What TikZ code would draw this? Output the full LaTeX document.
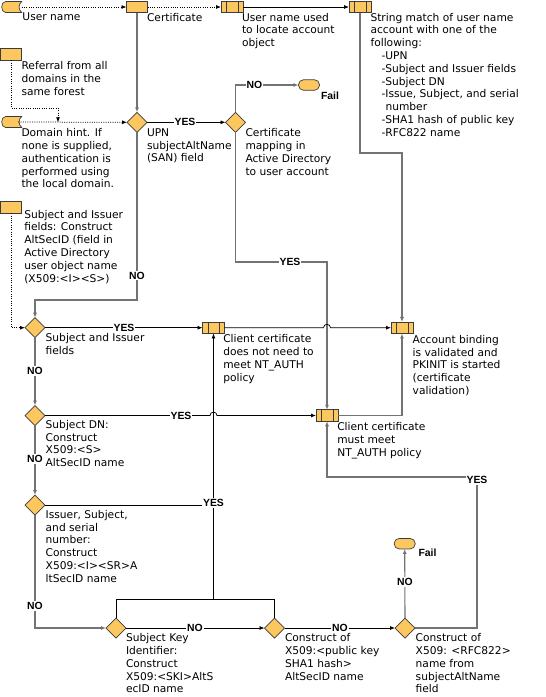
\documentclass[tikz,border=0pt]{standalone}
\usepackage{fontspec}
\setmainfont{DejaVu Sans}
\newfontfamily\lblfont{Liberation Sans}
\usetikzlibrary{shapes.geometric,arrows.meta}
\definecolor{shp}{RGB}{253,199,96}
\definecolor{shpline}{RGB}{60,60,60}
\definecolor{gline}{RGB}{115,115,115}
\begin{document}
\begin{tikzpicture}[x=1pt,y=-1pt,
  every node/.style={inner sep=0pt,outer sep=0pt},
  shapebase/.style={draw=shpline,fill=shp,line width=0.7pt},
  dia/.style={shapebase,shape=diamond,minimum width=20pt,minimum height=20pt},
  boxr/.style={shapebase,shape=rectangle,minimum width=21pt,minimum height=11.5pt},
  sdata/.style={shape=rectangle,minimum width=20pt,minimum height=11pt},
  pp/.style={shapebase,shape=rectangle,minimum width=22pt,minimum height=11.5pt,
    path picture={\draw[shpline,line width=0.7pt]
      ([xshift=5.5pt]path picture bounding box.north west) -- ([xshift=5.5pt]path picture bounding box.south west)
      ([xshift=-5pt]path picture bounding box.north east) -- ([xshift=-5pt]path picture bounding box.south east);}},
  term/.style={shapebase,shape=rectangle,rounded corners=5pt,minimum width=21pt,minimum height=10.5pt},
  txt/.style={anchor=north west,align=left,font={\fontsize{10.67}{12.8}\selectfont}},
  lbl/.style={fill=white,inner sep=1pt,font={\lblfont\bfseries\fontsize{10.4}{12}\selectfont}},
  arr/.style={-{Latex[length=5pt,width=4pt]}},
  gl/.style={draw=gline,line width=1.1pt},
  bl/.style={draw=black,line width=0.75pt},
  dl/.style={draw=black,line width=0.75pt,dash pattern=on 1pt off 1.3pt},
]
\fill[white] (0,0) rectangle (546,697);
\useasboundingbox (0,0) rectangle (546,697);

% ---------- shapes ----------
\node[sdata] (un) at (11.7,7) {};
\node[sdata] (dh) at (11.7,122) {};
\foreach \n in {un,dh}{
  \draw[shapebase] ([xshift=4pt]\n.north west) -- (\n.north east)
    .. controls +(-3.5,3) and +(-3.5,-3) .. (\n.south east)
    -- ([xshift=4pt]\n.south west)
    .. controls +(-5.3,0) and +(-5.3,0) .. ([xshift=4pt]\n.north west) -- cycle;
}
\node[boxr] (cert) at (137,7) {};
\node[boxr] (ref) at (11.3,54.5) {};
\node[boxr] (sib) at (11.3,207.5) {};
\node[pp] (loc) at (232,7) {};
\node[pp] (str) at (360,7) {};
\node[pp] (nn) at (213.5,327.7) {};
\node[pp] (acct) at (402,327.7) {};
\node[pp] (mm) at (327,415.5) {};
\node[term] (fail1) at (309,85) {};
\node[term] (fail2) at (404.7,543.7) {};
\node[dia] (upn) at (137,122.3) {};
\node[dia] (cm) at (235.5,122.3) {};
\node[dia] (si) at (35,327.7) {};
\node[dia] (dn) at (35,415.5) {};
\node[dia] (iss) at (35,505) {};
\node[dia] (ski) at (116,628) {};
\node[dia] (sha) at (274.5,628) {};
\node[dia] (rfc) at (405,628) {};

% ---------- helper coordinates ----------
\coordinate (s1) at (402,153);
\coordinate (r1) at (58,108);
\coordinate (r2) at (58,122.3);
\coordinate (c2) at (327,262);
\coordinate (c3) at (35,300);
\coordinate (h1) at (327,327.7);
\coordinate (h2) at (213.5,415.5);
\coordinate (j2) at (213.5,505);
\coordinate (j1) at (213.5,599);
\coordinate (c1) at (477,477);

% ---------- connectors ----------
\draw[dl,arr] (un.east) -- (cert.west);
\draw[dl,arr] (cert.east) -- (loc.west);
\draw[bl,arr] (loc.east) -- (str.west);
\draw[gl,arr] (str.south) |- (s1) -- (acct.north);
\draw[gl,arr] (cert.south) -- (upn.north);
\draw[dl] (ref.south) |- (r1);
\draw[dl,arr] (r1) -- (r2);
\draw[dl,arr] ([xshift=-3.5pt]dh.east) -- (upn.west);
\draw[bl,arr] (upn.east) -- (cm.west);
\draw[gl,arr] (cm.north) |- (fail1.west);
\draw[gl,arr] (cm.south) |- (c2) -- (mm.north);
\draw[gl,arr] (upn.south) |- (c3) -- (si.north);
\draw[dl,arr] (sib.south) |- (si.west);
\draw[bl,arr] (si.east) -- (nn.west);
\draw[bl,arr] (nn.east) -- ([xshift=-3.5pt]h1) .. controls +(0,-4.5) and +(0,-4.5) .. ([xshift=3.5pt]h1) -- (acct.west);
\draw[gl,arr] (si.south) -- (dn.north);
\draw[bl,arr] (dn.east) -- ([xshift=-3.5pt]h2) .. controls +(0,-4.5) and +(0,-4.5) .. ([xshift=3.5pt]h2) -- (mm.west);
\draw[gl,arr] (dn.south) -- (iss.north);
\draw[bl] (iss.east) -- (j2);
\draw[bl] (ski.north) |- (j1);
\draw[bl] (sha.north) |- (j1);
\draw[bl,arr] (j1) -- (nn.south);
\draw[gl,arr] (iss.south) |- (ski.west);
\draw[bl,arr] (ski.east) -- (sha.west);
\draw[bl,arr] (sha.east) -- (rfc.west);
\draw[gl,arr] (rfc.north) -- (fail2.south);
\draw[gl,arr] (rfc.east) -| (c1) -| (mm.south);
\draw[gl,arr] (mm.east) -| (acct.south);

% ---------- connector labels ----------
\node[lbl] (l1) at (185,122.3) {YES};
\node[lbl] (l2) at (254.5,85) {NO};
\node[lbl] (l3) at (290,262) {YES};
\node[lbl] (l4) at (137,275.5) {NO};
\node[lbl] (l5) at (124,327.7) {YES};
\node[lbl] (l6) at (35,371) {NO};
\node[lbl] (l7) at (181,415.5) {YES};
\node[lbl] (l8) at (35,459) {NO};
\node[lbl] (l9) at (213.5,503) {YES};
\node[lbl] (l10) at (35,606) {NO};
\node[lbl] (l11) at (195,628) {NO};
\node[lbl] (l12) at (340,628) {NO};
\node[lbl] (l13) at (405,582) {NO};
\node[lbl] (l14) at (477,480) {YES};
\node[lbl,fill=none,anchor=base west] (f1) at (320,99.3) {Fail};
\node[lbl,fill=none,anchor=base west] (f2) at (417.5,556.7) {Fail};

% ---------- texts ----------
\node[txt] (t1) at (22.5,12.9) {User name};
\node[txt] (t2) at (147,12.9) {Certificate};
\node[txt] (t3) at (242,12.9) {User name used\\to locate account\\object};
\node[txt] (t4) at (370.5,12.9) {String match of user name\\account with one of the\\following:\\
\hspace*{11pt}-UPN\\\hspace*{11pt}-Subject and Issuer fields\\\hspace*{11pt}-Subject DN\\
\hspace*{11pt}-Issue, Subject, and serial\\\hspace*{15pt}number\\
\hspace*{11pt}-SHA1 hash of public key\\\hspace*{11pt}-RFC822 name};
\node[txt] (t5) at (21.5,61.4) {Referral from all\\domains in the\\same forest};
\node[txt] (t6) at (21.5,128.6) {Domain hint. If\\none is supplied,\\authentication is\\performed using\\the local domain.};
\node[txt] (t7) at (147,128.6) {UPN\\subjectAltName\\(SAN) field};
\node[txt] (t8) at (245.5,128.6) {Certificate\\mapping in\\Active Directory\\to user account};
\node[txt] (t9) at (24.3,209.9) {Subject and Issuer\\fields: Construct\\AltSecID (field in\\Active Directory\\user object name\\(X509:<I><S>)};
\node[txt] (t10) at (45.7,333.6) {Subject and Issuer\\fields};
\node[txt] (t11) at (223.3,334.6) {Client certificate\\does not need to\\meet NT\_AUTH\\policy};
\node[txt] (t12) at (412.7,335.2) {Account binding\\is validated and\\PKINIT is started\\(certificate\\validation)};
\node[txt] (t13) at (45.7,420.2) {Subject DN:\\Construct\\X509:<S>\\AltSecID name};
\node[txt] (t14) at (337.3,422.6) {Client certificate\\must meet\\NT\_AUTH policy};
\node[txt] (t15) at (45.7,510.2) {Issuer, Subject,\\and serial\\number:\\Construct\\X509:<I><SR>A\\ltSecID name};
\node[txt] (t16) at (126,633.6) {Subject Key\\Identifier:\\Construct\\X509:<SKI>AltS\\ecID name};
\node[txt] (t17) at (285,633.6) {Construct of\\X509:<public key\\SHA1 hash>\\AltSecID name};
\node[txt] (t18) at (415.7,633.6) {Construct of\\X509: <RFC822>\\name from\\subjectAltName\\field};
\end{tikzpicture}
\end{document}
